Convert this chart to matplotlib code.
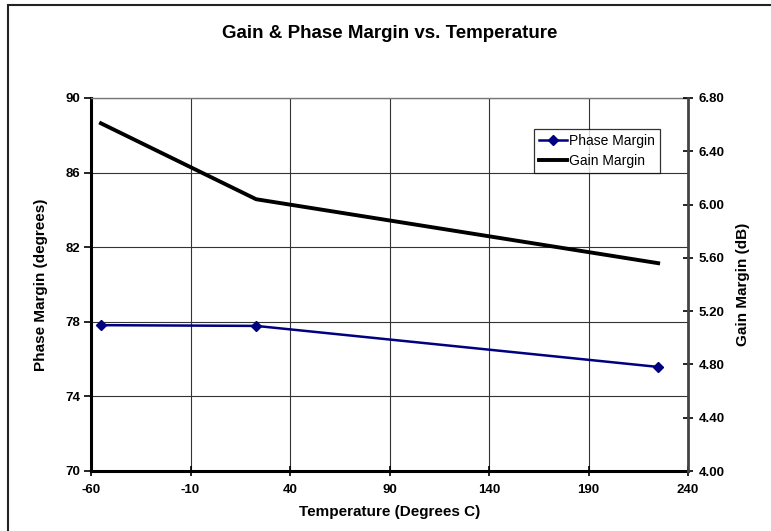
import matplotlib.pyplot as plt
from matplotlib.patches import Rectangle

plt.rcParams['font.family'] = ['Liberation Sans', 'DejaVu Sans']
plt.rcParams['axes.unicode_minus'] = False

# data
temps = [-55, 23, 225]
phase_margin = [77.82, 77.78, 75.58]
gain_margin = [6.61, 6.04, 5.56]

x_ticks = [-60, -10, 40, 90, 140, 190, 240]
left_ticks = [70, 74, 78, 82, 86, 90]
right_ticks = [4.00, 4.40, 4.80, 5.20, 5.60, 6.00, 6.40, 6.80]

W, H = 771, 531
fig = plt.figure(figsize=(W / 100, H / 100), dpi=100)
fig.patches.append(Rectangle((8 / W, -0.1), 1.1, 1.1 - 5 / H, transform=fig.transFigure,
                             fill=False, edgecolor='#222222', linewidth=1.5))

ax = fig.add_axes([91 / W, (H - 471) / H, (688 - 91) / W, (471 - 98) / H])
ax2 = ax.twinx()

# phase margin on left axis
ax.plot(temps, phase_margin, color='#000080', linewidth=1.8, marker='D', markersize=5,
        label='Phase Margin', zorder=3)
# gain margin on right axis
ax2.plot(temps, gain_margin, color='black', linewidth=2.8, label='Gain Margin', zorder=3)

ax.set_xlim(-60, 240)
ax.set_ylim(70, 90)
ax2.set_ylim(4.0, 6.8)
ax.set_xticks(x_ticks)
ax.set_yticks(left_ticks)
ax2.set_yticks(right_ticks)
ax2.set_yticklabels([f'{v:.2f}' for v in right_ticks])

ax.grid(True, color='#333333', linewidth=0.8)
ax.set_axisbelow(True)

for s in ['left', 'bottom']:
    ax.spines[s].set_linewidth(2.2)
    ax.spines[s].set_color('black')
ax.spines['top'].set_color('#777777')
ax.spines['top'].set_linewidth(1.0)
ax.spines['right'].set_visible(False)
for s in ['left', 'top', 'bottom']:
    ax2.spines[s].set_visible(False)
ax2.spines['right'].set_linewidth(2.0)
ax2.spines['right'].set_color('#444444')

ax.tick_params(axis='y', direction='out', length=5, width=1.2, labelsize=9.5, pad=3)
ax.tick_params(axis='x', direction='inout', length=7, width=1.2, labelsize=9.5, pad=6)
ax2.tick_params(axis='y', direction='inout', length=7, width=1.2, labelsize=9.5, pad=4)
for lab in ax.get_xticklabels() + ax.get_yticklabels() + ax2.get_yticklabels():
    lab.set_fontweight('bold')

ax.set_xlabel('Temperature (Degrees C)', fontsize=11, fontweight='bold', labelpad=6)
ax.set_ylabel('Phase Margin (degrees)', fontsize=11, fontweight='bold', labelpad=12)
ax2.set_ylabel('Gain Margin (dB)', fontsize=11, fontweight='bold', labelpad=8)

fig.text((92 + 688) / 2 / W, 1 - 33 / H, 'Gain & Phase Margin vs. Temperature',
         ha='center', va='center', fontsize=13.5, fontweight='bold')

h1, l1 = ax.get_legend_handles_labels()
h2, l2 = ax2.get_legend_handles_labels()
leg = ax2.legend(h1 + h2, l1 + l2, loc='upper right', bbox_to_anchor=(0.953, 0.917),
                 fontsize=10, frameon=True, fancybox=False, borderaxespad=0,
                 handlelength=2.0, handletextpad=0.15, borderpad=0.35, labelspacing=0.45)
leg.get_frame().set_edgecolor('black')
leg.get_frame().set_linewidth(0.9)

fig.savefig('out.png', dpi=100)
